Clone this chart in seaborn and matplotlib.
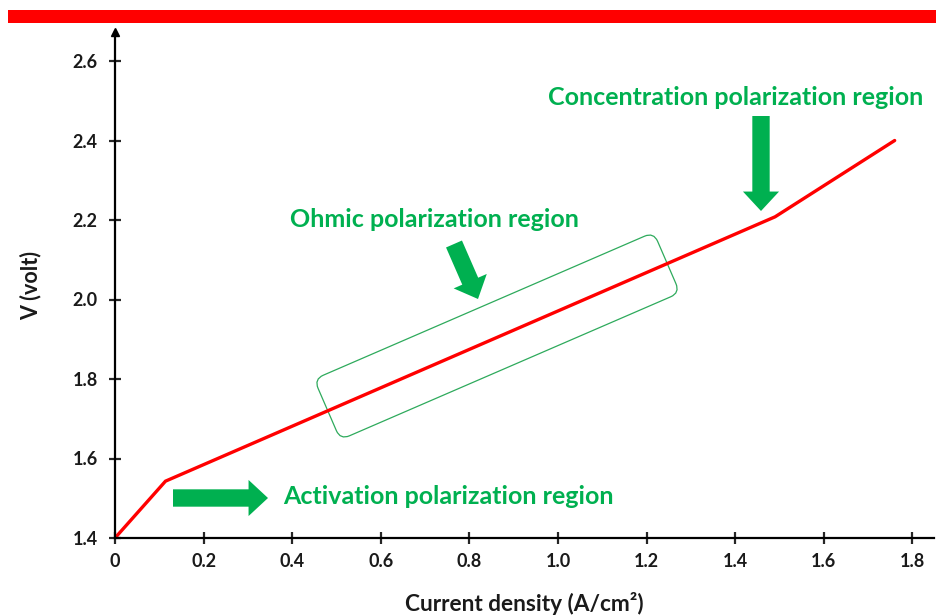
import matplotlib
matplotlib.use("Agg")
import matplotlib.pyplot as plt
import matplotlib.transforms as mtransforms
from matplotlib.patches import FancyBboxPatch, Rectangle
import seaborn as sns
import pandas as pd

# ---- data ----
current = [0.0, 0.114, 1.49, 1.76]
voltage = [1.4, 1.543, 2.208, 2.4]
xticks = [0, 0.2, 0.4, 0.6, 0.8, 1.0, 1.2, 1.4, 1.6, 1.8]
xtick_labels = ["0", "0.2", "0.4", "0.6", "0.8", "1.0", "1.2", "1.4", "1.6", "1.8"]
yticks = [1.4, 1.6, 1.8, 2.0, 2.2, 2.4, 2.6]
ytick_labels = ["1.4", "1.6", "1.8", "2.0", "2.2", "2.4", "2.6"]

sns.set_style("ticks")
plt.rcParams["font.family"] = ["Lato", "DejaVu Sans"]

GREEN = "#00B050"
RED = "#FF0000"

W, H = 937, 615
fig = plt.figure(figsize=(W / 100, H / 100), dpi=100)
ax = fig.add_axes([115 / W, (H - 538) / H, (0.997 * W - 115) / W, (538 - 32) / H])

df = pd.DataFrame({"current": current, "voltage": voltage})
sns.lineplot(data=df, x="current", y="voltage", color=RED, linewidth=2.4, ax=ax,
             sort=False, solid_joinstyle="miter")

ax.set_xlim(0, (0.997 * W - 115) / 443)
ax.set_ylim(1.4, 1.4 + (538 - 32) / 397.5)
ax.set_xticks(xticks)
ax.set_xticklabels(xtick_labels)
ax.set_yticks(yticks)
ax.set_yticklabels(ytick_labels)
for lab in ax.get_xticklabels() + ax.get_yticklabels():
    lab.set_fontweight("bold")
    lab.set_color("#1a1a1a")
ax.tick_params(axis="both", direction="inout", length=9, width=1.6, labelsize=13)
ax.tick_params(axis="y", pad=8)
ax.tick_params(axis="x", pad=6)
sns.despine(ax=ax)
for s in ("left", "bottom"):
    ax.spines[s].set_linewidth(1.6)
    ax.spines[s].set_color("black")

ax.set_xlabel("Current density (A/cm²)", fontsize=16.3, fontweight="bold", color="#1a1a1a", labelpad=16)
ax.set_ylabel("V (volt)", fontsize=15.5, fontweight="bold", color="#1a1a1a", labelpad=22)

# axis arrow heads
ax.plot(1, 0, ">k", markersize=6, transform=ax.get_yaxis_transform(), clip_on=False)
ax.plot(0, 1, "^k", markersize=6, transform=ax.get_xaxis_transform(), clip_on=False)


def px(xp, yp):
    """pixel position (from top-left) to data coordinates"""
    return ((xp - 115) / 443, 1.4 + (538 - yp) / 397.5)


# green annotations text
ax.text(*px(548, 97), "Concentration polarization region", color=GREEN, fontsize=18,
        fontweight="bold", ha="left", va="center")
ax.text(*px(290, 220), "Ohmic polarization region", color=GREEN, fontsize=18,
        fontweight="bold", ha="left", va="center")
ax.text(*px(283, 497), "Activation polarization region", color=GREEN, fontsize=18,
        fontweight="bold", ha="left", va="center")

style = "simple,head_length=14,head_width=26,tail_width=12.5"
arrow_kw = dict(arrowstyle=style, mutation_scale=1, color=GREEN, shrinkA=0, shrinkB=0, lw=0)
ax.annotate("", xy=px(268, 498), xytext=px(173, 498), arrowprops=arrow_kw)
ax.annotate("", xy=px(761, 211), xytext=px(761, 116), arrowprops=arrow_kw)
ax.annotate("", xy=px(478, 299), xytext=px(454, 244), arrowprops=arrow_kw)

# rotated rounded box around ohmic region
fig.canvas.draw()
cx, cy = ax.transData.transform(px(497, 336))
L, Wd = 370, 66
box = FancyBboxPatch((-L / 2, -Wd / 2), L, Wd, boxstyle="round,pad=0,rounding_size=10",
                     fill=False, edgecolor="#2EAA5C", linewidth=0.9,
                     transform=mtransforms.Affine2D().rotate_deg(23.4).translate(cx, cy),
                     clip_on=False)
ax.add_artist(box)

# red band at the top
fig.patches.append(Rectangle((8 / W, (H - 23) / H), (W - 8) / W, 13 / H,
                             transform=fig.transFigure, facecolor=RED, edgecolor="none"))

fig.savefig("out.png", dpi=100)
